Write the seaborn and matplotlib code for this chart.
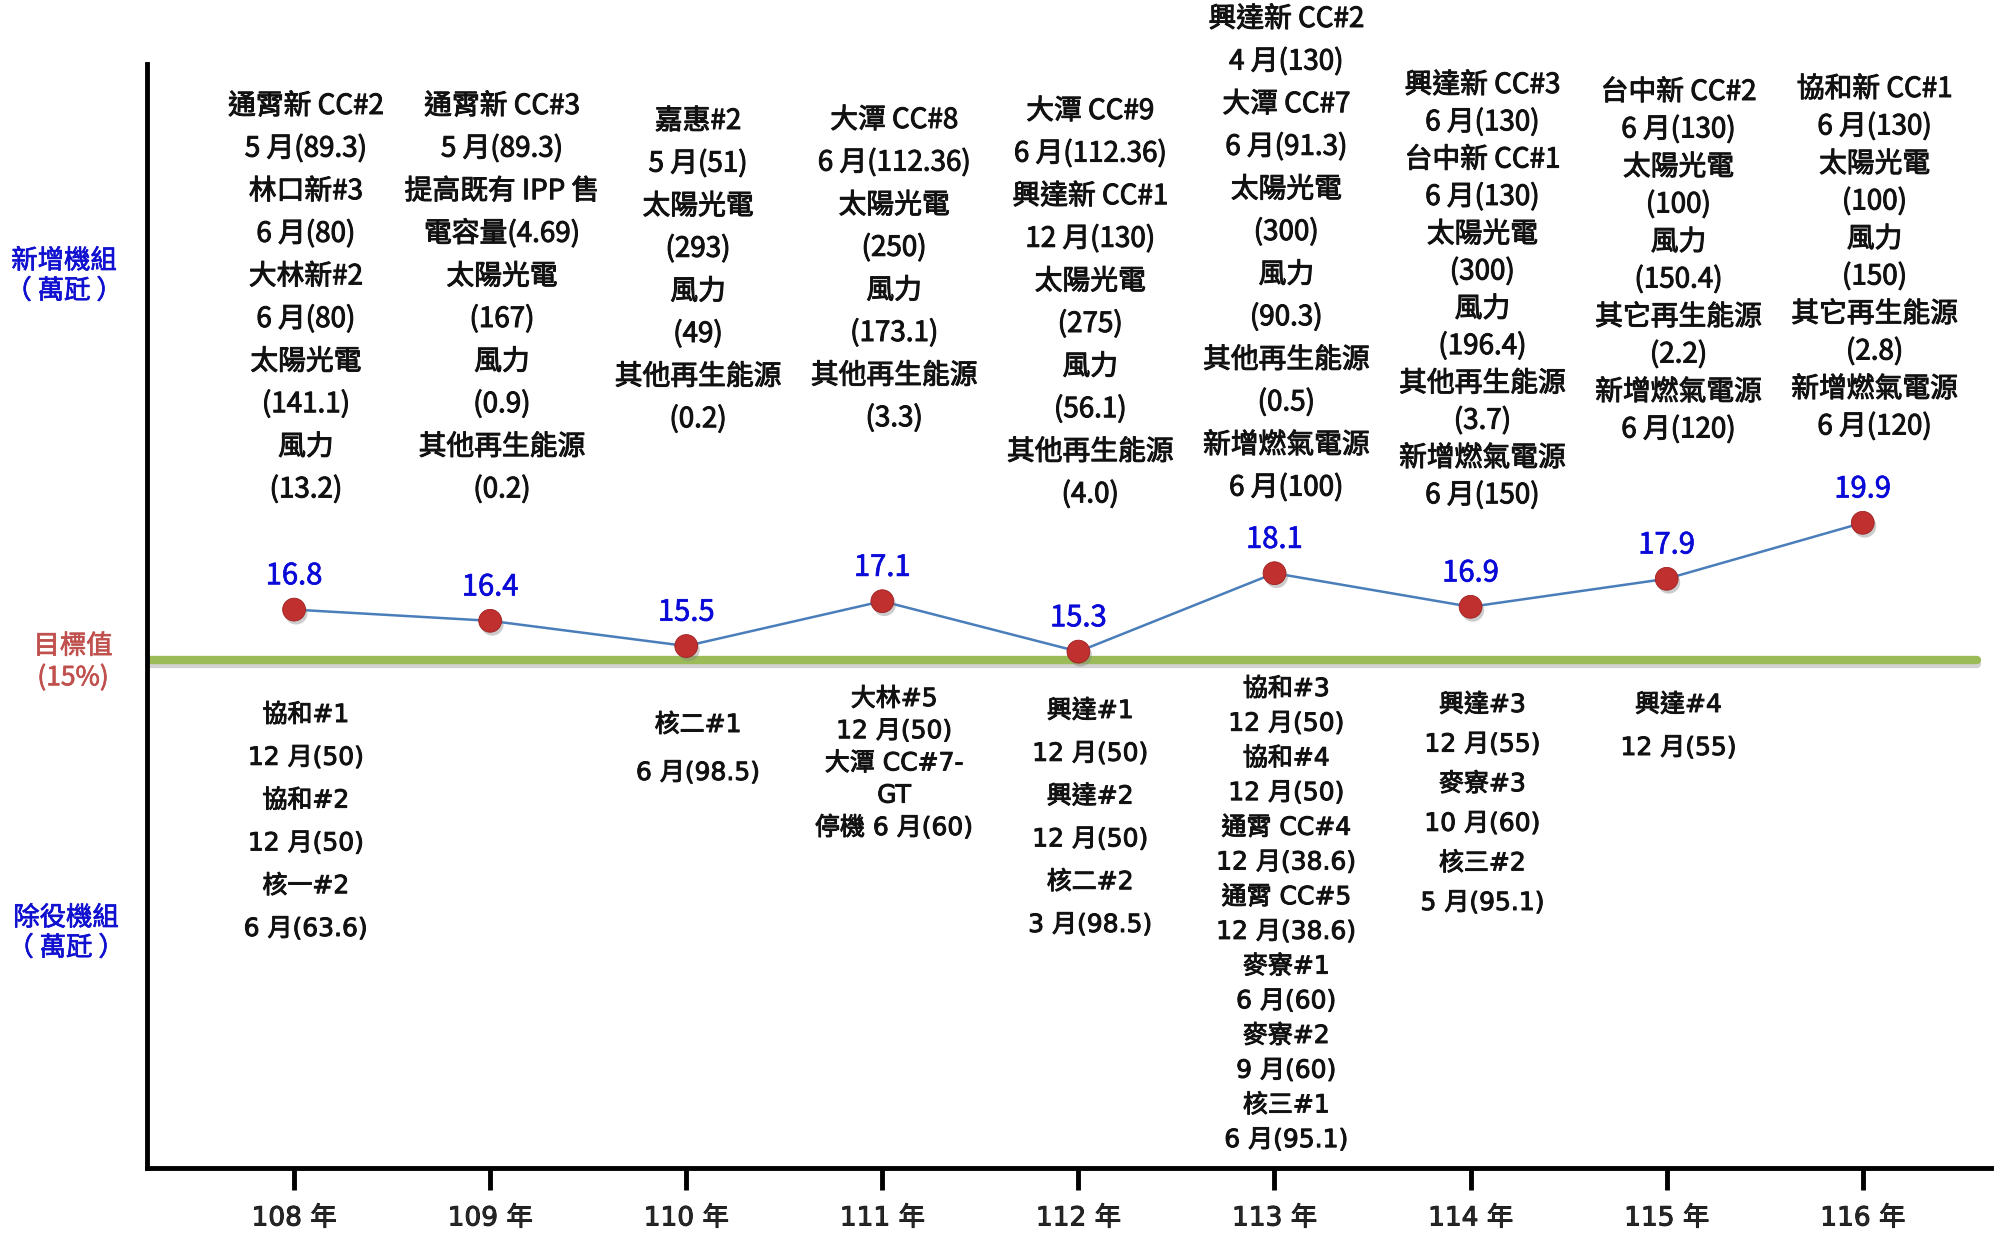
import matplotlib
matplotlib.use('Agg')
import matplotlib.pyplot as plt
import matplotlib.patheffects as pe
import matplotlib.transforms as mtransforms
import seaborn as sns
import pandas as pd

# 年度與再生能源占比(%)
years = ['108 年', '109 年', '110 年', '111 年', '112 年', '113 年', '114 年', '115 年', '116 年']
share = [16.8, 16.4, 15.5, 17.1, 15.3, 18.1, 16.9, 17.9, 19.9]
target = 15

# 新增機組 (萬瓩)
new_units = [
    ['通霄新 CC#2', '5 月(89.3)', '林口新#3', '6 月(80)', '大林新#2', '6 月(80)', '太陽光電', '(141.1)', '風力', '(13.2)'],
    ['通霄新 CC#3', '5 月(89.3)', '提高既有 IPP 售', '電容量(4.69)', '太陽光電', '(167)', '風力', '(0.9)', '其他再生能源', '(0.2)'],
    ['嘉惠#2', '5 月(51)', '太陽光電', '(293)', '風力', '(49)', '其他再生能源', '(0.2)'],
    ['大潭 CC#8', '6 月(112.36)', '太陽光電', '(250)', '風力', '(173.1)', '其他再生能源', '(3.3)'],
    ['大潭 CC#9', '6 月(112.36)', '興達新 CC#1', '12 月(130)', '太陽光電', '(275)', '風力', '(56.1)', '其他再生能源', '(4.0)'],
    ['興達新 CC#2', '4 月(130)', '大潭 CC#7', '6 月(91.3)', '太陽光電', '(300)', '風力', '(90.3)', '其他再生能源', '(0.5)', '新增燃氣電源', '6 月(100)'],
    ['興達新 CC#3', '6 月(130)', '台中新 CC#1', '6 月(130)', '太陽光電', '(300)', '風力', '(196.4)', '其他再生能源', '(3.7)', '新增燃氣電源', '6 月(150)'],
    ['台中新 CC#2', '6 月(130)', '太陽光電', '(100)', '風力', '(150.4)', '其它再生能源', '(2.2)', '新增燃氣電源', '6 月(120)'],
    ['協和新 CC#1', '6 月(130)', '太陽光電', '(100)', '風力', '(150)', '其它再生能源', '(2.8)', '新增燃氣電源', '6 月(120)'],
]

# 除役機組 (萬瓩)
retired_units = [
    ['協和#1', '12 月(50)', '協和#2', '12 月(50)', '核一#2', '6 月(63.6)'],
    [],
    ['核二#1', '6 月(98.5)'],
    ['大林#5', '12 月(50)', '大潭 CC#7-', 'GT', '停機 6 月(60)'],
    ['興達#1', '12 月(50)', '興達#2', '12 月(50)', '核二#2', '3 月(98.5)'],
    ['協和#3', '12 月(50)', '協和#4', '12 月(50)', '通霄 CC#4', '12 月(38.6)', '通霄 CC#5', '12 月(38.6)',
     '麥寮#1', '6 月(60)', '麥寮#2', '9 月(60)', '核三#1', '6 月(95.1)'],
    ['興達#3', '12 月(55)', '麥寮#3', '10 月(60)', '核三#2', '5 月(95.1)'],
    ['興達#4', '12 月(55)'],
    [],
]

# 文字排版 (像素)
W, H = 1998, 1236
upper_top = [106, 106, 121, 120, 111, 19, 85, 92, 89]
upper_step = [42.6, 42.6, 42.6, 42.6, 42.6, 42.6, 37.3, 37.5, 37.5]
lower_top = [715, 0, 725, 699, 711, 689, 705, 705, 0]
lower_step = [42.8, 0, 48, 32.2, 42.8, 34.7, 39.6, 43, 0]

sns.set_style('white')
plt.rcParams['font.family'] = ['Noto Sans CJK TC', 'DejaVu Sans']
latin_first = ['DejaVu Sans', 'Noto Sans CJK TC']
# 讓一般字重稍微加粗一點
thick = [pe.withStroke(linewidth=0.7, foreground='#111111')]

df = pd.DataFrame({'pos': range(len(years)), 'year': years, 'share': share})

fig = plt.figure(figsize=(W / 100, H / 100), dpi=100)
ax = fig.add_axes([147 / W, 1 - 1168 / H, (1991 - 147) / W, (1168 - 64) / H])

# 目標值 15% 綠線
ax.axhline(target, xmin=0, xmax=(1977 - 147) / (1991 - 147), color='#9BBB59', lw=6, zorder=2,
           path_effects=[pe.SimpleLineShadow(offset=(0, -3), shadow_color='gray', alpha=0.35), pe.Normal()])

sns.lineplot(data=df, x='pos', y='share', color='#4A7EBB', lw=1.8, ax=ax, zorder=3)
sns.scatterplot(data=df, x='pos', y='share', s=270, color='#C0302F', edgecolor='#9E1F1F', linewidth=0.6,
                ax=ax, zorder=4,
                path_effects=[pe.SimplePatchShadow(offset=(1.5, -2.5), shadow_rgbFace='gray', alpha=0.4), pe.Normal()])

for p, v in zip(df['pos'], df['share']):
    ax.annotate(f'{v}', (p, v), xytext=(0, 24), textcoords='offset points', ha='center', va='center',
                color='#0A0AD8', fontsize=21,
                path_effects=[pe.withStroke(linewidth=0.5, foreground='#0A0AD8')])

ax.set_xlim(-0.75, 8.654)
ax.set_ylim(15 - 508 / 28, 15 + 596 / 28)
ax.set_xticks(df['pos'])
ax.set_xticklabels(years, family=latin_first, fontsize=19)
for lab in ax.get_xticklabels():
    lab.set_path_effects(thick)
ax.set_yticks([])
ax.set_xlabel('')
ax.set_ylabel('')
ax.tick_params(axis='x', bottom=True, direction='out', length=16, width=3.5, pad=11, color='black')
sns.despine(ax=ax)
for s in ['left', 'bottom']:
    ax.spines[s].set_linewidth(3.5)
    ax.spines[s].set_color('black')

trans = mtransforms.blended_transform_factory(ax.transData, fig.transFigure)
for i, lines in enumerate(new_units):
    for k, t in enumerate(lines):
        y = upper_top[i] + k * upper_step[i]
        ax.text(i + 0.06, 1 - y / H, t, transform=trans, ha='center', va='center', fontsize=20,
                color='#111111', clip_on=False, path_effects=thick)
for i, lines in enumerate(retired_units):
    for k, t in enumerate(lines):
        y = lower_top[i] + k * lower_step[i]
        ax.text(i + 0.06, 1 - y / H, t, transform=trans, ha='center', va='center', fontsize=18,
                family=latin_first, color='#111111', clip_on=False, path_effects=thick)

# 左側標籤
fig.text(64 / W, 1 - 276 / H, '新增機組\n（ 萬瓩 ）', ha='center', va='center', fontsize=19,
         color='#1010D0', linespacing=1.15, path_effects=[pe.withStroke(linewidth=0.5, foreground='#1010D0')])
fig.text(73 / W, 1 - 662 / H, '目標值\n(15%)', ha='center', va='center', fontsize=19,
         color='#C0504D', linespacing=1.2, path_effects=[pe.withStroke(linewidth=0.5, foreground='#C0504D')])
fig.text(66 / W, 1 - 933 / H, '除役機組\n（ 萬瓩 ）', ha='center', va='center', fontsize=19,
         color='#1010D0', linespacing=1.15, path_effects=[pe.withStroke(linewidth=0.5, foreground='#1010D0')])

fig.savefig('out.png', dpi=100, facecolor='white')
